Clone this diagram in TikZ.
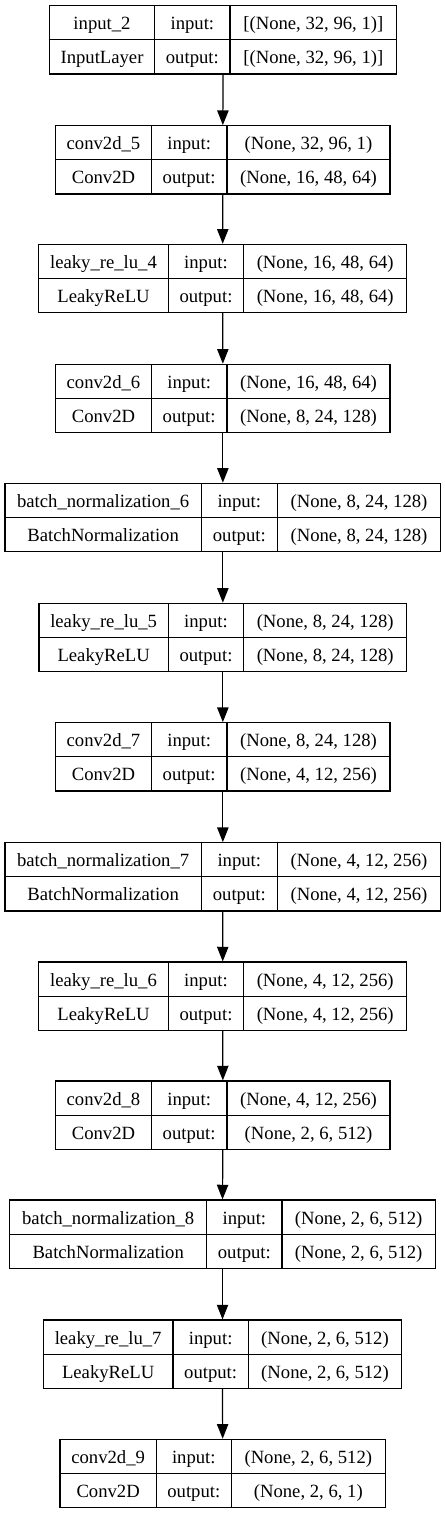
\documentclass[tikz,border=0pt]{standalone}
\usepackage{fontspec}
\setmainfont{Liberation Serif}
\newfontfamily\layerfont{Liberation Serif}
\usetikzlibrary{arrows.meta}

\begin{document}
\begin{tikzpicture}[
		x=0.75pt, y=-0.75pt,
		% 每一层的外框
		layerbox/.style={rectangle, draw=black, line width=0.9pt, inner sep=0pt, minimum height=51.2pt},
		% 格子里的文字
		celltext/.style={inner sep=0pt, text height=11pt, text depth=0.5pt, font=\layerfont\fontsize{14}{16}\selectfont},
		% 层与层之间的箭头
		link/.style={-{Triangle[length=11pt, width=8.5pt]}, line width=0.9pt}
	]
	\useasboundingbox (0,0) rectangle (445,1514);
	%Nodes
	\foreach \id/\ty/\lx/\ax/\bx/\rx/\nm/\cl/\ishape/\oshape in {
		1/5.7/49.3/154.7/230/396.7/input\_2/InputLayer/{[(None, 32, 96, 1)]}/{[(None, 32, 96, 1)]},
		2/125.7/55.7/151.3/227/390/conv2d\_5/Conv2D/{(None, 32, 96, 1)}/{(None, 16, 48, 64)},
		3/244.3/38.7/168.3/243.7/406.7/leaky\_re\_lu\_4/LeakyReLU/{(None, 16, 48, 64)}/{(None, 16, 48, 64)},
		4/364.3/55.7/151.3/227/390/conv2d\_6/Conv2D/{(None, 16, 48, 64)}/{(None, 8, 24, 128)},
		5/483.3/5/201.3/277.3/440.7/batch\_normalization\_6/BatchNormalization/{(None, 8, 24, 128)}/{(None, 8, 24, 128)},
		6/603.3/39/168.3/243.7/406.7/leaky\_re\_lu\_5/LeakyReLU/{(None, 8, 24, 128)}/{(None, 8, 24, 128)},
		7/722.7/55.7/151.3/227/390/conv2d\_7/Conv2D/{(None, 8, 24, 128)}/{(None, 4, 12, 256)},
		8/842.7/5/201.3/277.3/440.7/batch\_normalization\_7/BatchNormalization/{(None, 4, 12, 256)}/{(None, 4, 12, 256)},
		9/962/38.7/168.3/243.7/406.7/leaky\_re\_lu\_6/LeakyReLU/{(None, 4, 12, 256)}/{(None, 4, 12, 256)},
		10/1081/55.7/151.3/227/390/conv2d\_8/Conv2D/{(None, 4, 12, 256)}/{(None, 2, 6, 512)},
		11/1200/9.7/206.7/282/435.3/batch\_normalization\_8/BatchNormalization/{(None, 2, 6, 512)}/{(None, 2, 6, 512)},
		12/1320/43.3/173/248.3/401.7/leaky\_re\_lu\_7/LeakyReLU/{(None, 2, 6, 512)}/{(None, 2, 6, 512)},
		13/1439.3/60/156.3/231.3/385.3/conv2d\_9/Conv2D/{(None, 2, 6, 512)}/{(None, 2, 6, 1)}
	}{
		\node[layerbox, minimum width={(\rx-\lx)*0.75pt}] (L\id) at ({(\lx+\rx)/2}, \ty+34.15) {};
		% 格子之间的分隔线
		\draw[line width=0.9pt] (L\id.west) -- (L\id.east);
		\draw[line width=0.9pt] (\ax, \ty) -- (\ax, \ty+68.3);
		\draw[line width=0.9pt] (\bx, \ty) -- (\bx, \ty+68.3);
		\node[celltext] (name\id)   at ({(\lx+\ax)/2}, \ty+17.1) {\nm};
		\node[celltext] (cls\id)    at ({(\lx+\ax)/2}, \ty+51.2) {\cl};
		\node[celltext] (inlbl\id)  at ({(\ax+\bx)/2}, \ty+17.1) {input:};
		\node[celltext] (outlbl\id) at ({(\ax+\bx)/2}, \ty+51.2) {output:};
		\node[celltext] (inval\id)  at ({(\bx+\rx)/2}, \ty+17.1) {\ishape};
		\node[celltext] (outval\id) at ({(\bx+\rx)/2}, \ty+51.2) {\oshape};
	}
	%Lines
	\foreach \a [count=\b from 2] in {1,...,12}
		\draw[link] (L\a.south) -- (L\b.north);
\end{tikzpicture}
\end{document}
